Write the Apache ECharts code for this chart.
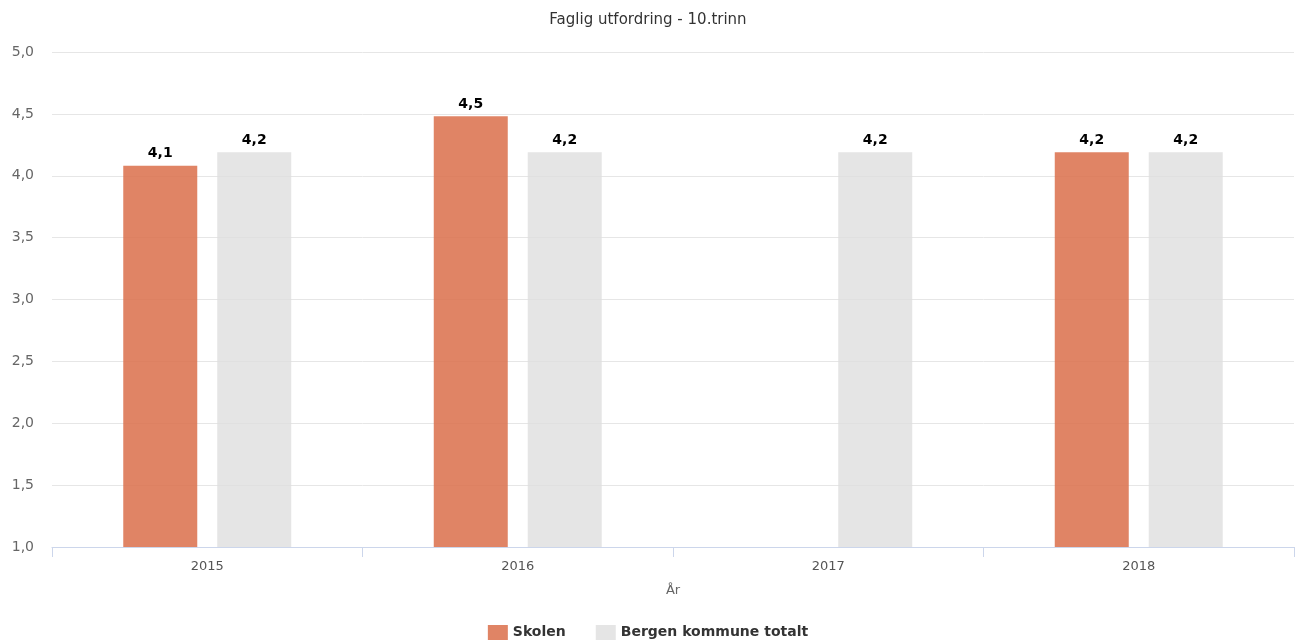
<!DOCTYPE html>
<html>
<head>
<meta charset="utf-8">
<script src="https://cdn.jsdelivr.net/npm/echarts@6/dist/echarts.min.js"></script>
<style>
  html, body { margin: 0; padding: 0; background: #fff; }
  #chart { width: 1296px; height: 642px; }
</style>
</head>
<body>
<div id="chart"></div>
<script>
const years = ['2015', '2016', '2017', '2018'];
const skolen = [4.08, 4.48, null, 4.19];
const bergen = [4.19, 4.19, 4.19, 4.19];
const yTicks = [1, 1.5, 2, 2.5, 3, 3.5, 4, 4.5, 5];

const font = 'Verdana, "DejaVu Sans", sans-serif';
const fmt = v => v.toFixed(1).replace('.', ',');

const chart = echarts.init(document.getElementById('chart'));

const label = {
  show: true,
  position: 'top',
  distance: 5,
  color: '#000',
  fontWeight: 'bold',
  fontSize: 14,
  fontFamily: font,
  formatter: p => (p.value == null ? '' : fmt(p.value))
};

chart.setOption({
  animation: false,
  title: {
    text: 'Faglig utfordring - 10.trinn',
    left: 'center',
    top: 8,
    textStyle: { color: '#333', fontSize: 15, fontWeight: 'normal', fontFamily: font }
  },
  legend: {
    top: 620,
    left: 'center',
    itemWidth: 20,
    itemHeight: 15,
    itemGap: 30,
    icon: 'rect',
    textStyle: { color: '#333', fontSize: 14, fontWeight: 'bold', fontFamily: font }
  },
  grid: { left: 52, right: 2, top: 52, bottom: 95 },
  xAxis: {
    type: 'category',
    data: years,
    name: 'År',
    nameLocation: 'middle',
    nameGap: 37,
    nameTextStyle: { color: '#666', fontSize: 13, fontFamily: font },
    axisLine: { lineStyle: { color: '#ccd6eb' } },
    axisTick: { show: true, length: 10, lineStyle: { color: '#ccd6eb' } },
    axisLabel: { color: '#555', fontSize: 13, fontFamily: font, margin: 13 }
  },
  yAxis: {
    type: 'value',
    min: yTicks[0],
    max: yTicks[yTicks.length - 1],
    interval: 0.5,
    axisLine: { show: false },
    axisTick: { show: false },
    axisLabel: { color: '#666', fontSize: 14, fontFamily: font, margin: 18, formatter: v => fmt(v) },
    splitLine: { lineStyle: { color: '#e6e6e6' } }
  },
  series: [
    {
      name: 'Skolen',
      type: 'bar',
      data: skolen,
      barWidth: 74,
      barGap: '27%',
      itemStyle: { color: 'rgba(218,110,74,0.85)' },
      label: label
    },
    {
      name: 'Bergen kommune totalt',
      type: 'bar',
      data: bergen,
      barWidth: 74,
      itemStyle: { color: 'rgba(222,222,222,0.8)' },
      label: label
    }
  ]
});
</script>
</body>
</html>
